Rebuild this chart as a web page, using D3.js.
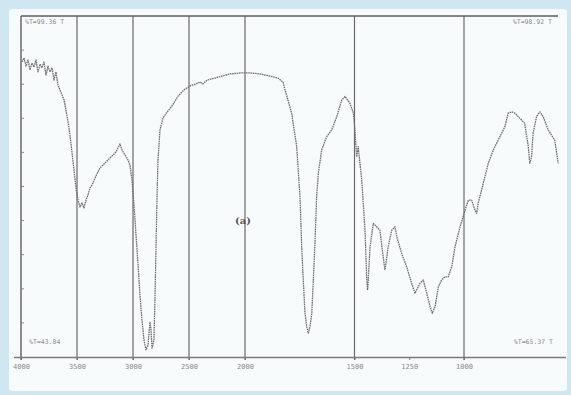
<!DOCTYPE html>
<html>
<head>
<meta charset="utf-8">
<script src="https://cdn.jsdelivr.net/npm/d3@7"></script>
<style>
  html, body { margin: 0; padding: 0; background: #cfe7f1; }
  svg { display: block; }
</style>
</head>
<body>
<svg id="chart" width="571" height="395"></svg>
<script>
// IR spectrum: wavenumber (cm-1) and transmittance (%T)
const wavenumber = [
  3991, 3973, 3955, 3938, 3920, 3902, 3884, 3866, 3848, 3830, 3813, 3795, 3777, 3759, 3741, 3723,
  3705, 3688, 3670, 3652, 3634, 3616, 3598, 3580, 3563, 3545, 3527, 3509, 3491, 3473, 3455, 3438,
  3420, 3402, 3384, 3366, 3339, 3313, 3295, 3268, 3241, 3205, 3179, 3152, 3134, 3116, 3098, 3071,
  3045, 3027, 3009, 2991, 2973, 2955, 2938, 2920, 2902, 2884, 2866, 2848, 2839, 2830, 2813, 2804,
  2795, 2786, 2777, 2759, 2732, 2696, 2652, 2598, 2545, 2491, 2438, 2402, 2375, 2339, 2268, 2205,
  2134, 2045, 1977, 1932, 1886, 1849, 1826,
  1817, 1787, 1764, 1749, 1741, 1734, 1726, 1718, 1711, 1703, 1695, 1688, 1680, 1673, 1665, 1650,
  1627, 1604, 1581, 1558, 1543, 1521, 1505, 1498, 1490, 1483, 1467, 1452, 1444, 1440, 1429, 1414,
  1399, 1384, 1369, 1361, 1346, 1330, 1315, 1307, 1285, 1262, 1239, 1224, 1201, 1186, 1170, 1155,
  1145, 1132, 1117, 1102, 1087, 1072, 1056, 1041, 1018, 995, 980, 965, 950, 942, 935, 912,
  889, 866, 836, 813, 798, 782, 767, 752, 737, 722, 706, 699, 691, 684, 668, 653,
  638, 615, 585, 569
];
const transmittance = [
  86.5, 87.7, 85.3, 87.1, 84.2, 86.2, 85.0, 87.1, 83.6, 85.9, 84.8, 86.5, 82.7, 85.3, 83.6, 84.8,
  81.2, 83.6, 79.8, 78.3, 76.8, 75.4, 72.4, 68.9, 65.1, 60.1, 54.8, 49.6, 46.0, 44.0, 45.2, 43.7,
  46.0, 47.5, 49.6, 50.4, 52.5, 54.3, 55.4, 56.3, 57.2, 58.4, 59.2, 60.1, 61.3, 62.5, 60.7, 59.2,
  57.8, 56.3, 51.9, 44.6, 35.8, 27.0, 18.2, 10.9, 5.0, 2.1, 3.5, 10.3, 7.9, 2.6, 5.0, 16.7,
  31.4, 46.0, 57.8, 66.6, 70.1, 71.8, 73.6, 76.5, 78.3, 79.5, 80.1, 80.6, 80.1, 81.2, 81.8, 82.4,
  83.0, 83.3, 83.3, 83.0, 82.4, 81.8, 80.6,
  78.3, 71.5, 61.7, 47.0, 32.3, 22.6, 12.8, 8.9, 7.0, 8.9, 12.8, 22.6, 34.3, 47.0, 53.9, 60.7,
  64.6, 66.6, 70.5, 75.4, 76.4, 74.4, 71.5, 66.6, 58.7, 61.7, 51.9, 37.2, 22.6, 19.6, 32.3, 39.2,
  38.2, 37.2, 29.4, 25.5, 32.3, 37.2, 38.2, 35.3, 30.4, 26.5, 21.6, 18.7, 21.6, 22.6, 18.7, 14.8,
  12.8, 14.8, 20.6, 22.6, 23.5, 23.5, 26.5, 32.3, 38.2, 43.1, 46.0, 46.0, 43.1, 42.1, 45.1, 50.9,
  56.8, 60.7, 64.6, 67.5, 71.5, 71.9, 71.5, 70.5, 69.5, 68.5, 61.7, 56.8, 58.7, 65.6, 70.5, 71.9,
  70.5, 66.6, 63.6, 56.8
];

// Axis: grid lines, tick labels, left-side %T ticks
const gridWavenumbers = [3500, 3000, 2500, 2000, 1500, 1000];
const tickWavenumbers = [4000, 3500, 3000, 2500, 2000, 1500, 1250, 1000];
const tickLabels = ["4000", "3500", "3000", "2500", "2000", "1500", "1250", "1000"];
const percentTicks = [10, 20, 30, 40, 50, 60, 70, 80, 90];

// Recorder annotations at the plot corners
const cornerNotes = ["%T=99.36 T", "%T=98.92 T", "%T=43.84", "%T=65.37 T"];
const sampleLabel = "(a)";

const svg = d3.select("#chart");
const W = 571, H = 395;

// paper sheet
svg.append("rect").attr("x", 9).attr("y", 9).attr("width", 558).attr("height", 382)
  .attr("rx", 3).attr("fill", "#f8fbfc");

// scale doubles below 2000 cm-1, as on the recorder chart
const x = d3.scaleLinear().domain([4000, 2000, 1000, 570]).range([21, 245, 464, 558]);
const y = d3.scaleLinear().domain([0, 100]).range([357, 16]);

const ink = "#5d5d5d";

// frame: top edge, left edge, baseline
svg.append("line").attr("x1", x(4000)).attr("x2", x(570)).attr("y1", y(100)).attr("y2", y(100))
  .attr("stroke", ink).attr("stroke-width", 1.4);
svg.append("line").attr("x1", x(4000)).attr("x2", x(4000)).attr("y1", y(100)).attr("y2", y(0) + 3)
  .attr("stroke", ink).attr("stroke-width", 1.4);

// vertical grid lines
svg.append("g").selectAll("line").data(gridWavenumbers).join("line")
  .attr("x1", d => x(d)).attr("x2", d => x(d))
  .attr("y1", y(100)).attr("y2", y(0) + 3)
  .attr("stroke", "#6a6a6a").attr("stroke-width", 1.2);

// small %T ticks on the left edge
svg.append("g").selectAll("line").data(percentTicks).join("line")
  .attr("x1", x(4000)).attr("x2", x(4000) + 3)
  .attr("y1", d => y(d)).attr("y2", d => y(d))
  .attr("stroke", "#888").attr("stroke-width", 1);

// bottom axis
const axis = d3.axisBottom(x).tickValues(tickWavenumbers)
  .tickFormat((d, i) => tickLabels[i]).tickSize(3).tickSizeOuter(0);
const gAxis = svg.append("g").attr("transform", `translate(0,${y(0)})`).call(axis);
gAxis.select(".domain").attr("stroke", "#7a7a7a").attr("stroke-width", 1.6)
  .attr("d", `M14,0.5H566`);
gAxis.selectAll(".tick line").attr("stroke", "#777");
gAxis.selectAll(".tick text").attr("fill", "#8a8a8a").attr("font-size", 7)
  .attr("font-family", "DejaVu Sans Mono, monospace").attr("dy", "0.9em");

// spectrum trace
const pts = wavenumber.map((w, i) => [w, transmittance[i]]);
const line = d3.line().x(d => x(d[0])).y(d => y(d[1])).curve(d3.curveLinear);
svg.append("path").datum(pts).attr("d", line)
  .attr("fill", "none").attr("stroke", "#6e6e6e").attr("stroke-width", 1.3)
  .attr("stroke-dasharray", "1.6,0.7").attr("stroke-linejoin", "round");

// corner annotations
const noteStyle = s => s.attr("fill", "#8c8c8c").attr("font-size", 6.5)
  .attr("font-family", "DejaVu Sans Mono, monospace");
svg.append("text").attr("x", 25).attr("y", 24).text(cornerNotes[0]).call(noteStyle);
svg.append("text").attr("x", 552).attr("y", 24).attr("text-anchor", "end").text(cornerNotes[1]).call(noteStyle);
svg.append("text").attr("x", 29).attr("y", 344).text(cornerNotes[2]).call(noteStyle);
svg.append("text").attr("x", 553).attr("y", 344).attr("text-anchor", "end").text(cornerNotes[3]).call(noteStyle);

// sample label
svg.append("text").attr("x", 243).attr("y", 224).attr("text-anchor", "middle")
  .attr("fill", "#555").attr("font-size", 10).attr("font-weight", "bold")
  .attr("font-family", "DejaVu Serif, serif").text(sampleLabel);
</script>
</body>
</html>
